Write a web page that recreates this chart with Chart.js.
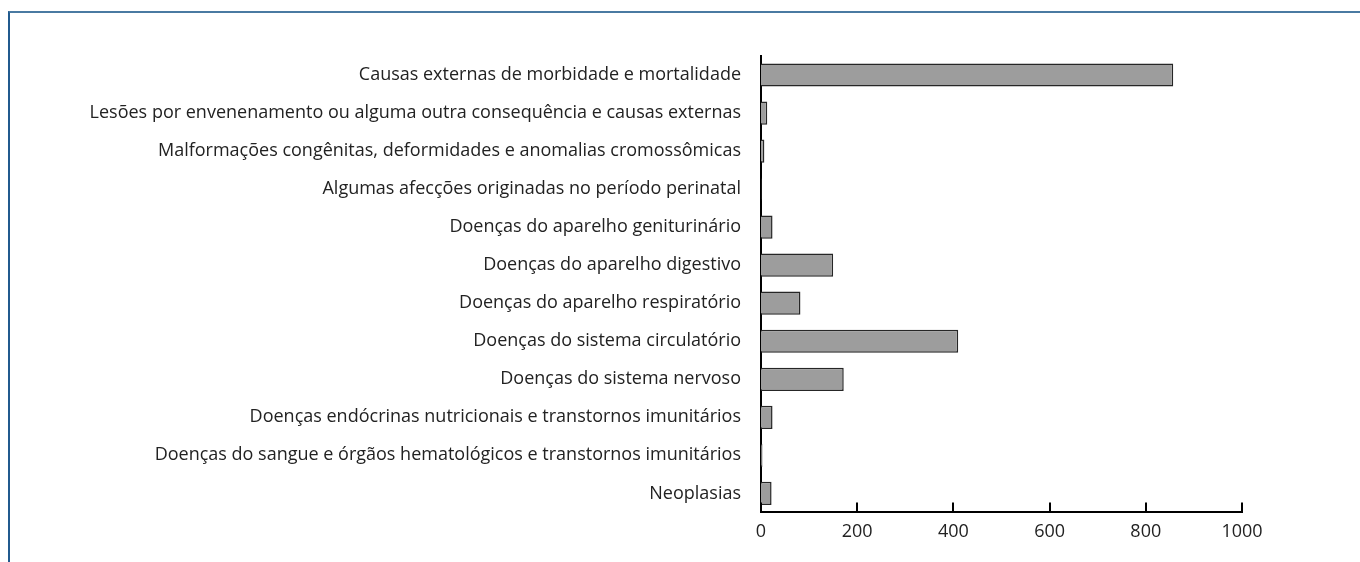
<!DOCTYPE html>
<html>
<head>
<meta charset="utf-8">
<script src="https://cdn.jsdelivr.net/npm/chart.js@4/dist/chart.umd.min.js"></script>
<style>
    html, body { margin: 0; padding: 0; background: #fff; }
    #wrap { position: relative; width: 1360px; height: 562px; }
    #frame {
        position: absolute; left: 8px; top: 11px; right: 0; bottom: 0;
        border-top: 2px solid #4a7aa2;
        border-left: 2px solid #215a8e;
    }
    canvas { position: absolute; left: 0; top: 0; }
</style>
</head>
<body>
<div id="wrap">
    <div id="frame"></div>
    <canvas id="chart" width="1360" height="562"></canvas>
</div>
<script>
// categories, top to bottom
const categories = [
    'Causas externas de morbidade e mortalidade',
    'Lesões por envenenamento ou alguma outra consequência e causas externas',
    'Malformações congênitas, deformidades e anomalias cromossômicas',
    'Algumas afecções originadas no período perinatal',
    'Doenças do aparelho geniturinário',
    'Doenças do aparelho digestivo',
    'Doenças do aparelho respiratório',
    'Doenças do sistema circulatório',
    'Doenças do sistema nervoso',
    'Doenças endócrinas nutricionais e transtornos imunitários',
    'Doenças do sangue e órgãos hematológicos e transtornos imunitários',
    'Neoplasias'
];
const values = [857, 13, 7, 1, 24, 150, 82, 410, 172, 24, 3, 22];
const xTicks = [0, 200, 400, 600, 800, 1000];

const FONT = '"Open Sans", "Noto Sans", sans-serif';

// tick marks pointing up from the x axis
const innerTicks = {
    id: 'innerTicks',
    afterDraw(chart) {
        const x = chart.scales.x;
        const ctx = chart.ctx;
        ctx.save();
        ctx.strokeStyle = '#000';
        ctx.lineWidth = 2;
        xTicks.forEach(v => {
            const px = Math.round(x.getPixelForValue(v));
            ctx.beginPath();
            ctx.moveTo(px, x.top);
            ctx.lineTo(px, x.top - 10);
            ctx.stroke();
        });
        ctx.restore();
    }
};

new Chart(document.getElementById('chart').getContext('2d'), {
    type: 'bar',
    data: {
        labels: categories,
        datasets: [{
            data: values,
            backgroundColor: '#9d9d9d',
            borderColor: '#262626',
            borderWidth: 1.5,
            borderSkipped: 'start',
            categoryPercentage: 1,
            barPercentage: 0.61
        }]
    },
    options: {
        indexAxis: 'y',
        responsive: false,
        animation: false,
        layout: { padding: { left: 8, top: 56, right: 118, bottom: 10 } },
        plugins: { legend: { display: false }, tooltip: { enabled: false } },
        scales: {
            x: {
                min: 0,
                max: 1000,
                afterBuildTicks(scale) { scale.ticks = xTicks.map(v => ({ value: v })); },
                grid: { display: false, drawTicks: false },
                border: { display: true, color: '#000', width: 2 },
                ticks: {
                    color: '#222', padding: 9,
                    font: { family: FONT, size: 18 },
                    callback: v => String(v)
                }
            },
            y: {
                afterFit(scale) { scale.width = 753; },
                grid: { display: false, drawTicks: false },
                border: { display: true, color: '#000', width: 2 },
                ticks: { color: '#222', padding: 20, font: { family: FONT, size: 18 } }
            }
        }
    },
    plugins: [innerTicks]
});
</script>
</body>
</html>
